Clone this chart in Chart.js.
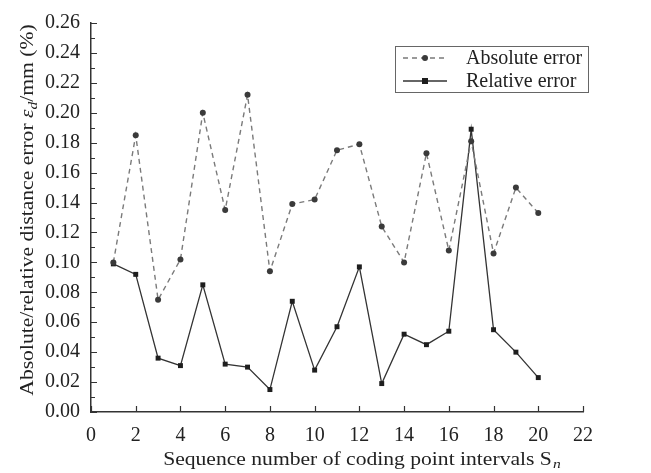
<!DOCTYPE html>
<html>
<head>
<meta charset="utf-8">
<script src="https://cdn.jsdelivr.net/npm/chart.js@4/dist/chart.umd.min.js"></script>
<style>
  html, body { margin: 0; padding: 0; background: #fff; }
  #wrap { width: 651px; height: 473px; position: relative; }
</style>
</head>
<body>
<div id="wrap"><canvas id="errChart"></canvas></div>
<script>
// ── Data ─────────────────────────────────────────────────────────────────────
const intervals = [1,2,3,4,5,6,7,8,9,10,11,12,13,14,15,16,17,18,19,20];
const absError  = [0.100,0.185,0.075,0.102,0.200,0.135,0.212,0.094,0.139,0.142,
                   0.175,0.179,0.124,0.100,0.173,0.108,0.181,0.106,0.150,0.133];
const relError  = [0.099,0.092,0.036,0.031,0.085,0.032,0.030,0.015,0.074,0.028,
                   0.057,0.097,0.019,0.052,0.045,0.054,0.189,0.055,0.040,0.023];

const seriesNames = ['Absolute error', 'Relative error'];
const xTitle = 'Sequence number of coding point intervals S';
const yTitle = 'Absolute/relative distance error ';

const SERIF = '"Liberation Serif", "DejaVu Serif", serif';
const AXIS  = '#333';
const STRETCH = 1.2;   // the figure's text is a bit wide

function toPoints(xs, ys) {
    return xs.map((x, i) => ({ x: x, y: ys[i] }));
}

// ── Ejes: ticks hacia dentro, títulos y leyenda ─────────────────────────────
const decoPlugin = {
    id: 'deco',
    afterDraw(chart) {
        const { ctx, chartArea: a, scales: { x, y } } = chart;
        ctx.save();
        ctx.strokeStyle = AXIS;
        ctx.lineWidth = 1.2;
        ctx.beginPath();
        // y: major every 0.02, minor every 0.01
        for (let k = 0; k <= 26; k++) {
            const py = Math.round(y.getPixelForValue(k / 100)) + 0.5;
            const len = k % 2 === 0 ? 6 : 4;
            ctx.moveTo(a.left, py); ctx.lineTo(a.left + len, py);
        }
        // x: every 2
        x.ticks.forEach(t => {
            const px = Math.round(x.getPixelForValue(t.value)) + 0.5;
            ctx.moveTo(px, a.bottom); ctx.lineTo(px, a.bottom - 6);
        });
        ctx.stroke();

        ctx.fillStyle = '#222';
        ctx.textBaseline = 'alphabetic';

        // x title with subscript n
        ctx.font = '18px ' + SERIF;
        const wMain = ctx.measureText(xTitle).width;
        ctx.font = 'italic 13px ' + SERIF;
        const wSub = ctx.measureText('n').width;
        ctx.translate(362, 465);
        ctx.scale(STRETCH, 1);
        let sx = -(wMain + wSub + 1) / 2;
        ctx.font = '18px ' + SERIF;
        ctx.fillText(xTitle, sx, 0);
        ctx.font = 'italic 13px ' + SERIF;
        ctx.fillText('n', sx + wMain + 1, 3);
        ctx.setTransform(1, 0, 0, 1, 0, 0);

        // y title, rotated, with italic epsilon + subscript d
        const parts = [
            { t: yTitle,    f: '18px ' + SERIF,        dy: 0 },
            { t: '\u03b5',  f: 'italic 18px ' + SERIF, dy: 0 },
            { t: 'd',       f: 'italic 13px ' + SERIF, dy: 4 },
            { t: '/mm (%)', f: '18px ' + SERIF,        dy: 0 }
        ];
        let total = 0;
        parts.forEach(p => { ctx.font = p.f; p.w = ctx.measureText(p.t).width; total += p.w; });
        ctx.translate(33, 210);
        ctx.rotate(-Math.PI / 2);
        ctx.scale(STRETCH, 1);
        let cx = -total / 2;
        parts.forEach(p => { ctx.font = p.f; ctx.fillText(p.t, cx, p.dy); cx += p.w; });
        ctx.setTransform(1, 0, 0, 1, 0, 0);

        // legend box
        const lx = 395, ly = 46, lw = 193, lh = 46;
        ctx.strokeStyle = '#666';
        ctx.lineWidth = 1;
        ctx.strokeRect(lx + 0.5, ly + 0.5, lw, lh);
        chart.data.datasets.forEach((ds, i) => {
            const yy = ly + 12 + i * 23;
            ctx.strokeStyle = ds.borderColor;
            ctx.lineWidth = ds.borderWidth;
            ctx.setLineDash(ds.borderDash || []);
            ctx.beginPath();
            ctx.moveTo(403, yy); ctx.lineTo(447, yy);
            ctx.stroke();
            ctx.setLineDash([]);
            ctx.fillStyle = ds.pointBackgroundColor;
            if (ds.pointStyle === 'rect') {
                ctx.fillRect(422, yy - 3, 6, 6);
            } else {
                ctx.beginPath(); ctx.arc(425, yy, 3, 0, Math.PI * 2); ctx.fill();
            }
            ctx.fillStyle = '#222';
            ctx.font = '20px ' + SERIF;
            ctx.fillText(ds.label, 466, yy + 6);
        });
        ctx.restore();
    }
};

const chart = new Chart(document.getElementById('errChart'), {
    type: 'line',
    data: {
        datasets: [
            {
                label: seriesNames[0],
                data: toPoints(intervals, absError),
                borderColor: '#7a7a7a',
                borderWidth: 1.4,
                borderDash: [5, 4],
                pointStyle: 'circle',
                pointRadius: 3,
                pointBackgroundColor: '#3a3a3a',
                pointBorderWidth: 0,
                tension: 0
            },
            {
                label: seriesNames[1],
                data: toPoints(intervals, relError),
                borderColor: '#333',
                borderWidth: 1.3,
                pointStyle: 'rect',
                pointRadius: 3.5,
                pointBackgroundColor: '#1e1e1e',
                pointBorderWidth: 0,
                tension: 0
            }
        ]
    },
    options: {
        responsive: true,
        maintainAspectRatio: false,
        animation: false,
        layout: { padding: { left: 0, top: 17, right: 68, bottom: 0 } },
        plugins: { legend: { display: false }, tooltip: { enabled: false } },
        scales: {
            x: {
                type: 'linear',
                min: 0, max: 22,
                afterFit: s => { s.height = 61; },
                border: { display: true, color: AXIS, width: 1.5 },
                grid: { display: false, drawTicks: false },
                ticks: { stepSize: 2, padding: 12, color: '#222', maxRotation: 0,
                         font: { family: SERIF, size: 20 } }
            },
            y: {
                min: 0, max: 0.26,
                afterFit: s => { s.width = 91; },
                border: { display: true, color: AXIS, width: 1.5 },
                grid: { display: false, drawTicks: false },
                ticks: { stepSize: 0.02, padding: 11, color: '#222',
                         font: { family: SERIF, size: 20 },
                         callback: v => v.toFixed(2) }
            }
        }
    },
    plugins: [decoPlugin]
});
</script>
</body>
</html>
